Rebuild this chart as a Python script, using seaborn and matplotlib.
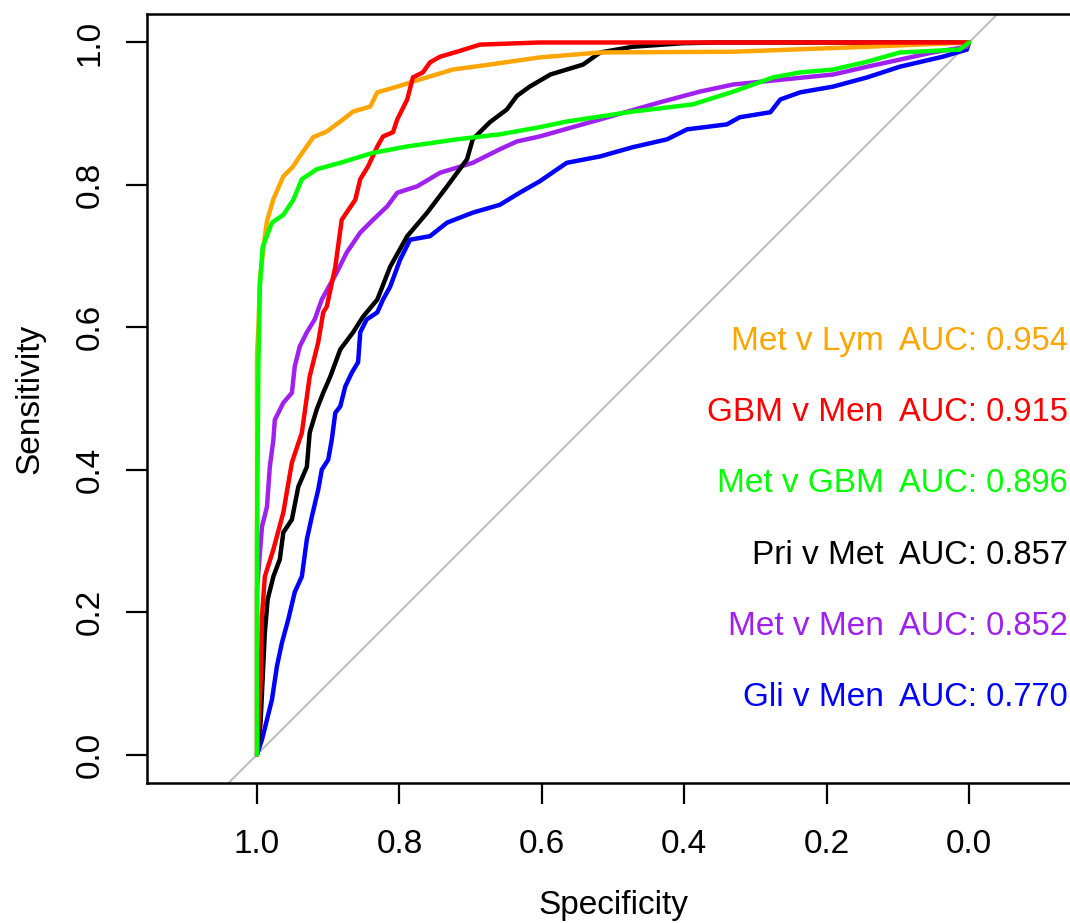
import pandas as pd
import seaborn as sns
import matplotlib.pyplot as plt

# ROC curves (specificity, sensitivity)
met_lym_spec = [1.0, 1.0, 0.998, 0.996, 0.990, 0.986, 0.977, 0.963, 0.950, 0.940, 0.921, 0.902, 0.879,
                0.865, 0.841, 0.831, 0.803, 0.781, 0.725, 0.673, 0.603, 0.518, 0.331, 0.143, 0.0]
met_lym_sens = [0.0, 0.56, 0.60, 0.667, 0.72, 0.749, 0.78, 0.812, 0.825, 0.84, 0.867, 0.875, 0.892,
                0.903, 0.91, 0.93, 0.938, 0.945, 0.962, 0.969, 0.979, 0.986, 0.987, 0.994, 1.0]

gbm_men_spec = [1.0, 0.995, 0.993, 0.989, 0.977, 0.963, 0.951, 0.937, 0.926, 0.914, 0.907, 0.902, 0.890,
                0.881, 0.862, 0.855, 0.844, 0.831, 0.823, 0.809, 0.803, 0.789, 0.781, 0.767, 0.757, 0.743,
                0.719, 0.687, 0.603, 0.0]
gbm_men_sens = [0.0, 0.10, 0.194, 0.25, 0.288, 0.34, 0.41, 0.452, 0.531, 0.579, 0.621, 0.629, 0.685,
                0.751, 0.779, 0.808, 0.826, 0.854, 0.868, 0.874, 0.892, 0.92, 0.951, 0.958, 0.972, 0.98,
                0.987, 0.997, 1.0, 1.0]

met_gbm_spec = [1.0, 1.0, 0.998, 0.996, 0.992, 0.979, 0.963, 0.949, 0.937, 0.916, 0.883, 0.837, 0.789,
                0.719, 0.659, 0.603, 0.565, 0.472, 0.388, 0.331, 0.275, 0.237, 0.191, 0.143, 0.097, 0.013, 0.0]
met_gbm_sens = [0.0, 0.30, 0.55, 0.657, 0.713, 0.747, 0.758, 0.779, 0.808, 0.822, 0.831, 0.845, 0.854,
                0.864, 0.871, 0.881, 0.889, 0.903, 0.913, 0.931, 0.951, 0.958, 0.962, 0.973, 0.986, 0.99, 1.0]

pri_met_spec = [1.0, 0.995, 0.989, 0.985, 0.977, 0.968, 0.963, 0.951, 0.942, 0.930, 0.926, 0.916, 0.907,
                0.897, 0.883, 0.865, 0.851, 0.831, 0.813, 0.789, 0.761, 0.733, 0.705, 0.697, 0.673, 0.649,
                0.635, 0.617, 0.588, 0.542, 0.518, 0.472, 0.402, 0.354, 0.0]
pri_met_sens = [0.0, 0.045, 0.171, 0.218, 0.25, 0.274, 0.312, 0.33, 0.376, 0.404, 0.452, 0.485, 0.508,
                0.531, 0.569, 0.593, 0.615, 0.639, 0.685, 0.728, 0.761, 0.798, 0.836, 0.864, 0.888, 0.906,
                0.925, 0.938, 0.955, 0.969, 0.986, 0.994, 0.999, 1.0, 1.0]

met_men_spec = [1.0, 1.0, 0.993, 0.986, 0.982, 0.977, 0.975, 0.963, 0.951, 0.947, 0.940, 0.930, 0.919,
                0.909, 0.888, 0.874, 0.855, 0.837, 0.817, 0.803, 0.775, 0.743, 0.697, 0.659, 0.635, 0.603,
                0.518, 0.434, 0.378, 0.331, 0.261, 0.191, 0.143, 0.051, 0.003, 0.0]
met_men_sens = [0.0, 0.232, 0.32, 0.348, 0.404, 0.442, 0.47, 0.494, 0.508, 0.545, 0.573, 0.593, 0.611,
                0.639, 0.677, 0.705, 0.733, 0.751, 0.77, 0.789, 0.798, 0.817, 0.831, 0.85, 0.861, 0.868,
                0.892, 0.916, 0.931, 0.941, 0.948, 0.955, 0.966, 0.986, 0.994, 1.0]

gli_men_spec = [1.0, 0.993, 0.986, 0.979, 0.972, 0.965, 0.956, 0.947, 0.937, 0.930, 0.923, 0.914, 0.909,
                0.900, 0.895, 0.890, 0.883, 0.876, 0.867, 0.858, 0.855, 0.846, 0.831, 0.823, 0.813, 0.799,
                0.785, 0.757, 0.733, 0.697, 0.659, 0.631, 0.603, 0.565, 0.518, 0.472, 0.424, 0.396, 0.340,
                0.322, 0.279, 0.265, 0.237, 0.191, 0.143, 0.097, 0.037, 0.003, 0.0]
gli_men_sens = [0.0, 0.021, 0.049, 0.077, 0.124, 0.157, 0.19, 0.228, 0.25, 0.302, 0.334, 0.372, 0.40,
                0.414, 0.442, 0.48, 0.489, 0.517, 0.536, 0.551, 0.593, 0.611, 0.621, 0.639, 0.657, 0.695,
                0.723, 0.728, 0.747, 0.761, 0.772, 0.789, 0.805, 0.831, 0.84, 0.853, 0.864, 0.878, 0.885,
                0.895, 0.902, 0.92, 0.93, 0.938, 0.951, 0.966, 0.98, 0.99, 1.0]

# legend order (top to bottom) and AUC values
pairs = ["Met v Lym", "GBM v Men", "Met v GBM", "Pri v Met", "Met v Men", "Gli v Men"]
aucs = [0.954, 0.915, 0.896, 0.857, 0.852, 0.770]
colors = ["#FFA500", "#FF0000", "#00FF00", "#000000", "#A020F0", "#0000FF"]
ticks = [1.0, 0.8, 0.6, 0.4, 0.2, 0.0]

curves = {
    "Met v Lym": (met_lym_spec, met_lym_sens),
    "GBM v Men": (gbm_men_spec, gbm_men_sens),
    "Met v GBM": (met_gbm_spec, met_gbm_sens),
    "Pri v Met": (pri_met_spec, pri_met_sens),
    "Met v Men": (met_men_spec, met_men_sens),
    "Gli v Men": (gli_men_spec, gli_men_sens),
}

rows = []
for name, (sp, se) in curves.items():
    for i in range(len(sp)):
        rows.append({"Specificity": sp[i], "Sensitivity": se[i], "pair": name})
df = pd.DataFrame(rows)

sns.set_style("ticks")
plt.rcParams['font.family'] = ['Liberation Sans', 'DejaVu Sans']
plt.rcParams['text.color'] = 'black'
plt.rcParams['axes.labelcolor'] = 'black'
plt.rcParams['xtick.color'] = 'black'
plt.rcParams['ytick.color'] = 'black'

fig = plt.figure(figsize=(10.7, 9.23), dpi=100)
ax = fig.add_axes([147 / 1070, 140 / 923, 932 / 1070, 769 / 923])

# chance diagonal
ax.axline((1, 0), (0, 1), color="#BEBEBE", lw=1.5, zorder=1)

draw_order = ["Gli v Men", "Met v Men", "Pri v Met", "Met v Lym", "GBM v Men", "Met v GBM"]
sns.lineplot(data=df, x="Specificity", y="Sensitivity", hue="pair", hue_order=draw_order,
             palette=dict(zip(pairs, colors)), sort=False, estimator=None, units="pair",
             lw=3.2, legend=False, ax=ax, zorder=2)

for i in range(len(pairs)):
    yy = 0.58 - 0.1 * i
    ax.text(0.12, yy, pairs[i], color=colors[i], fontsize=24, ha="right", va="center")
    ax.text(0.098, yy, "AUC: %.3f" % aucs[i], color=colors[i], fontsize=23.5, ha="left", va="center")

ax.set_xlim(1.1545, -0.1545)
ax.set_ylim(-0.04, 1.04)
ax.set_xticks(ticks)
ax.set_xticklabels(["%.1f" % t for t in ticks])
ax.set_yticks(ticks)
ax.set_yticklabels(["%.1f" % t for t in ticks], rotation=90, va="center")
ax.tick_params(length=15, width=1.6, labelsize=24, color="black", labelcolor="black")
ax.tick_params(axis="x", pad=18)
ax.tick_params(axis="y", pad=15)

for s in ax.spines.values():
    s.set_linewidth(1.8)
    s.set_color("black")

ax.set_xlabel("Specificity", fontsize=24)
ax.set_ylabel("Sensitivity", fontsize=24)
ax.xaxis.set_label_coords(0.5, -0.139)
ax.yaxis.set_label_coords(-0.109, 0.5)
ax.grid(False)

plt.savefig("out.png", dpi=100)
